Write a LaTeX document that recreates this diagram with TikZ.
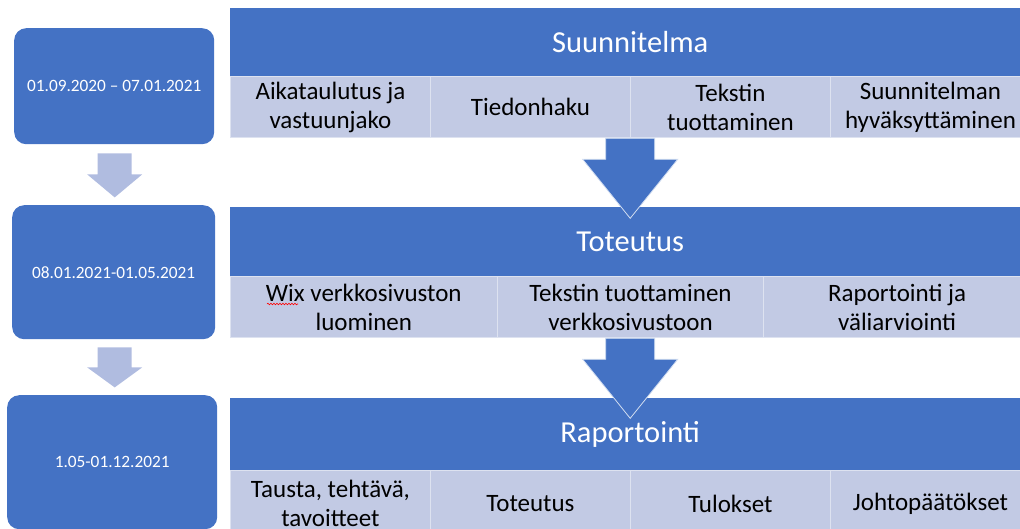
\documentclass[tikz,border=0pt]{standalone}
\usepackage{fontspec}
\setmainfont{Carlito}
\usetikzlibrary{positioning,calc,decorations.pathmorphing}

\definecolor{accent}{HTML}{4472C4}
\definecolor{taskfill}{HTML}{C2CAE4}
\definecolor{paleblue}{HTML}{B0BCE0}

\tikzset{
	datebox/.style={fill=accent, rounded corners=12pt, text=white, inner sep=0pt, anchor=north west, font=\fontsize{17.3}{21}\selectfont},
	band/.style={fill=accent, text=white, inner sep=0pt, anchor=north west, minimum width=800pt, font=\fontsize{30.5}{36}\selectfont},
	task/.style={fill=taskfill, draw=white!45!taskfill, line width=0.9pt, inner sep=0pt, anchor=north west, align=center, font=\fontsize{25}{29}\selectfont},
}

% #1 top point, #2 half shaft, #3 half head, #4 shaft length, #5 total length, #6 style
\newcommand{\blockarrow}[6]{%
	\path[#6] ($(#1)+(-#2,0)$) -- ++(2*#2,0) -- ++(0,#4) -- ++(#3-#2,0)
		-- ($(#1)+(0,#5)$) -- ($(#1)+(-#3,#4)$) -- ++(#3-#2,0) -- cycle;}

\begin{document}
\begin{tikzpicture}[x=1pt,y=-1pt]
	\useasboundingbox (0,0) rectangle (1020,528);
	\clip (0,0) rectangle (1020,528);

	% phases on the left
	\node [datebox, minimum width=200pt, minimum height=116pt] (d1) at (14,28) {01.09.2020 -- 07.01.2021};
	\node [datebox, minimum width=203pt, minimum height=134pt] (d2) at (12,205) {08.01.2021-01.05.2021};
	\node [datebox, minimum width=210pt, minimum height=134pt] (d3) at (7,395) {1.05-01.12.2021};
	\blockarrow{$(d1.south)+(0.5,9)$}{17}{27.5}{21}{44}{fill=paleblue}
	\blockarrow{$(d2.south)+(1,8)$}{17}{27.5}{20}{40}{fill=paleblue}

	% bands with their tasks
	\node [band, minimum height=68pt] (band1) at (230,8) {Suunnitelma};
	\foreach \lbl [count=\i] in {{Aikataulutus ja\\vastuunjako}, Tiedonhaku, {Tekstin\\tuottaminen}, {Suunnitelman\\hyväksyttäminen}}
		\node [task, minimum width=200pt, minimum height=61pt] (s1\i) at ($(band1.south west)+(200*\i-200,0)$) {\lbl};

	\node [band, minimum height=69pt] (band2) at (230,207) {Toteutus};
	\foreach \lbl [count=\i] in {{Wix verkkosivuston\\luominen}, {Tekstin tuottaminen\\verkkosivustoon}, {Raportointi ja\\väliarviointi}}
		\node [task, minimum width=266.67pt, minimum height=61pt] (s2\i) at ($(band2.south west)+(266.67*\i-266.67,0)$) {\lbl};
	\draw [red, line width=0.6pt, decorate, decoration={snake, amplitude=0.8pt, segment length=3pt}] (267,304) -- (298,304);

	\node [band, minimum height=72pt] (band3) at (230,398) {Raportointi};
	\foreach \lbl [count=\i] in {{Tausta, tehtävä,\\tavoitteet}, Toteutus, Tulokset, Johtopäätökset}
		\node [task, minimum width=200pt, minimum height=66pt] (s3\i) at ($(band3.south west)+(200*\i-200,0)$) {\lbl};

	% arrows between the bands
	\coordinate (a1) at (band1.center |- s11.south);
	\coordinate (a2) at (band2.center |- s21.south);
	\blockarrow{a1}{24.5}{47.5}{21}{80}{fill=accent, draw=white!75!accent, line width=0.8pt}
	\blockarrow{a2}{24.5}{47.5}{21}{80}{fill=accent, draw=white!75!accent, line width=0.8pt}
\end{tikzpicture}
\end{document}
